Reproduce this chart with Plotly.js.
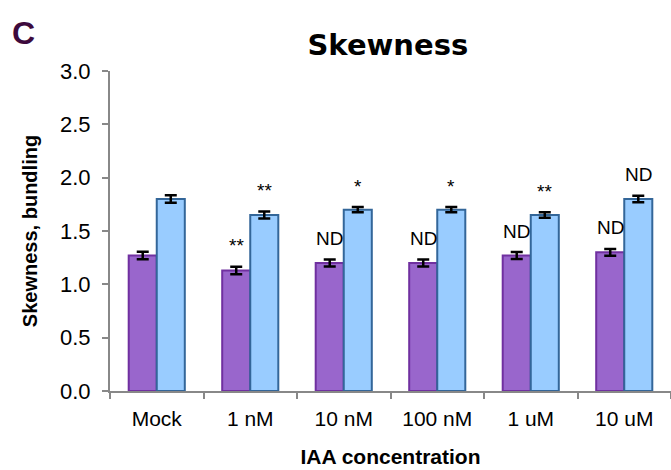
<!DOCTYPE html>
<html>
<head>
<meta charset="utf-8">
<script src="https://cdn.plot.ly/plotly-3.0.1.min.js"></script>
<style>html,body{margin:0;padding:0;background:#fff;}#chart{width:671px;height:470px;}</style>
</head>
<body>
<div id="chart"></div>
<script>
const categories = ["Mock", "1 nM", "10 nM", "100 nM", "1 uM", "10 uM"];
const seriesA = [1.27, 1.13, 1.20, 1.20, 1.27, 1.30];
const errorA = [0.035, 0.035, 0.032, 0.032, 0.032, 0.032];
const seriesB = [1.80, 1.65, 1.70, 1.70, 1.65, 1.80];
const errorB = [0.035, 0.032, 0.025, 0.025, 0.025, 0.030];
const labelsA = ["", "**", "ND", "ND", "ND", "ND"];
const labelsB = ["", "**", "*", "*", "**", "ND"];
const yTicks = [0, 0.5, 1.0, 1.5, 2.0, 2.5, 3.0];

const sans = '"Liberation Sans", Arial, sans-serif';

const traces = [
  {type: 'bar', x: categories, y: seriesA, name: 'A',
   marker: {color: '#9966cc', line: {color: '#7030a0', width: 2}},
   error_y: {type: 'data', array: errorA, visible: true, color: '#000', thickness: 2.5, width: 6}},
  {type: 'bar', x: categories, y: seriesB, name: 'B',
   marker: {color: '#99ccff', line: {color: '#336699', width: 2}},
   error_y: {type: 'data', array: errorB, visible: true, color: '#000', thickness: 2.5, width: 6}}
];

const annotations = [];
categories.forEach((c, i) => {
  if (labelsA[i]) annotations.push({x: c, y: seriesA[i] + errorA[i], xref: 'x', yref: 'y', text: labelsA[i],
    showarrow: false, xshift: -14, yanchor: 'middle', yshift: 21,
    font: {family: sans, size: 19, color: '#000'}});
  if (labelsB[i]) annotations.push({x: c, y: seriesB[i] + errorB[i], xref: 'x', yref: 'y', text: labelsB[i],
    showarrow: false, xshift: 14, yanchor: 'middle', yshift: 21,
    font: {family: sans, size: 19, color: '#000'}});
});
annotations.push({xref: 'paper', yref: 'paper', x: -0.154, y: 1.118, xanchor: 'center', yanchor: 'middle',
  text: '<b>C</b>', showarrow: false, font: {family: sans, size: 32, color: '#3d0a3d'}});

const layout = {
  width: 671, height: 470,
  margin: {l: 110, r: 0, t: 71, b: 79},
  paper_bgcolor: '#fff', plot_bgcolor: '#fff',
  showlegend: false,
  barmode: 'group', bargap: 0.4, bargroupgap: 0,
  title: {text: '<b>Skewness</b>', x: 0.578, xanchor: 'center', y: 0.904, yanchor: 'middle',
    font: {family: '"DejaVu Sans", sans-serif', size: 29, color: '#000'}},
  xaxis: {
    type: 'category', tickson: 'boundaries', ticks: 'outside', ticklen: 6, tickcolor: '#888', tickwidth: 2,
    showline: true, linecolor: '#888', linewidth: 2, showgrid: false, zeroline: false,
    ticklabelstandoff: 8,
    tickfont: {family: sans, size: 21, color: '#000'},
    title: {text: '<b>IAA concentration</b>', font: {family: sans, size: 21, color: '#000'}, standoff: 20}
  },
  yaxis: {
    range: [0, 3], tickvals: yTicks, ticktext: yTicks.map(v => v.toFixed(1)),
    ticks: 'outside', ticklen: 6, tickcolor: '#888', tickwidth: 2,
    showline: true, linecolor: '#888', linewidth: 2, showgrid: false, zeroline: false,
    ticklabelstandoff: 7,
    tickfont: {family: sans, size: 22, color: '#000'},
    title: {text: '<b>Skewness, bundling</b>', font: {family: sans, size: 20, color: '#000'}, standoff: 17}
  },
  annotations: annotations
};

Plotly.newPlot('chart', traces, layout, {displayModeBar: false, staticPlot: true});
</script>
</body>
</html>
